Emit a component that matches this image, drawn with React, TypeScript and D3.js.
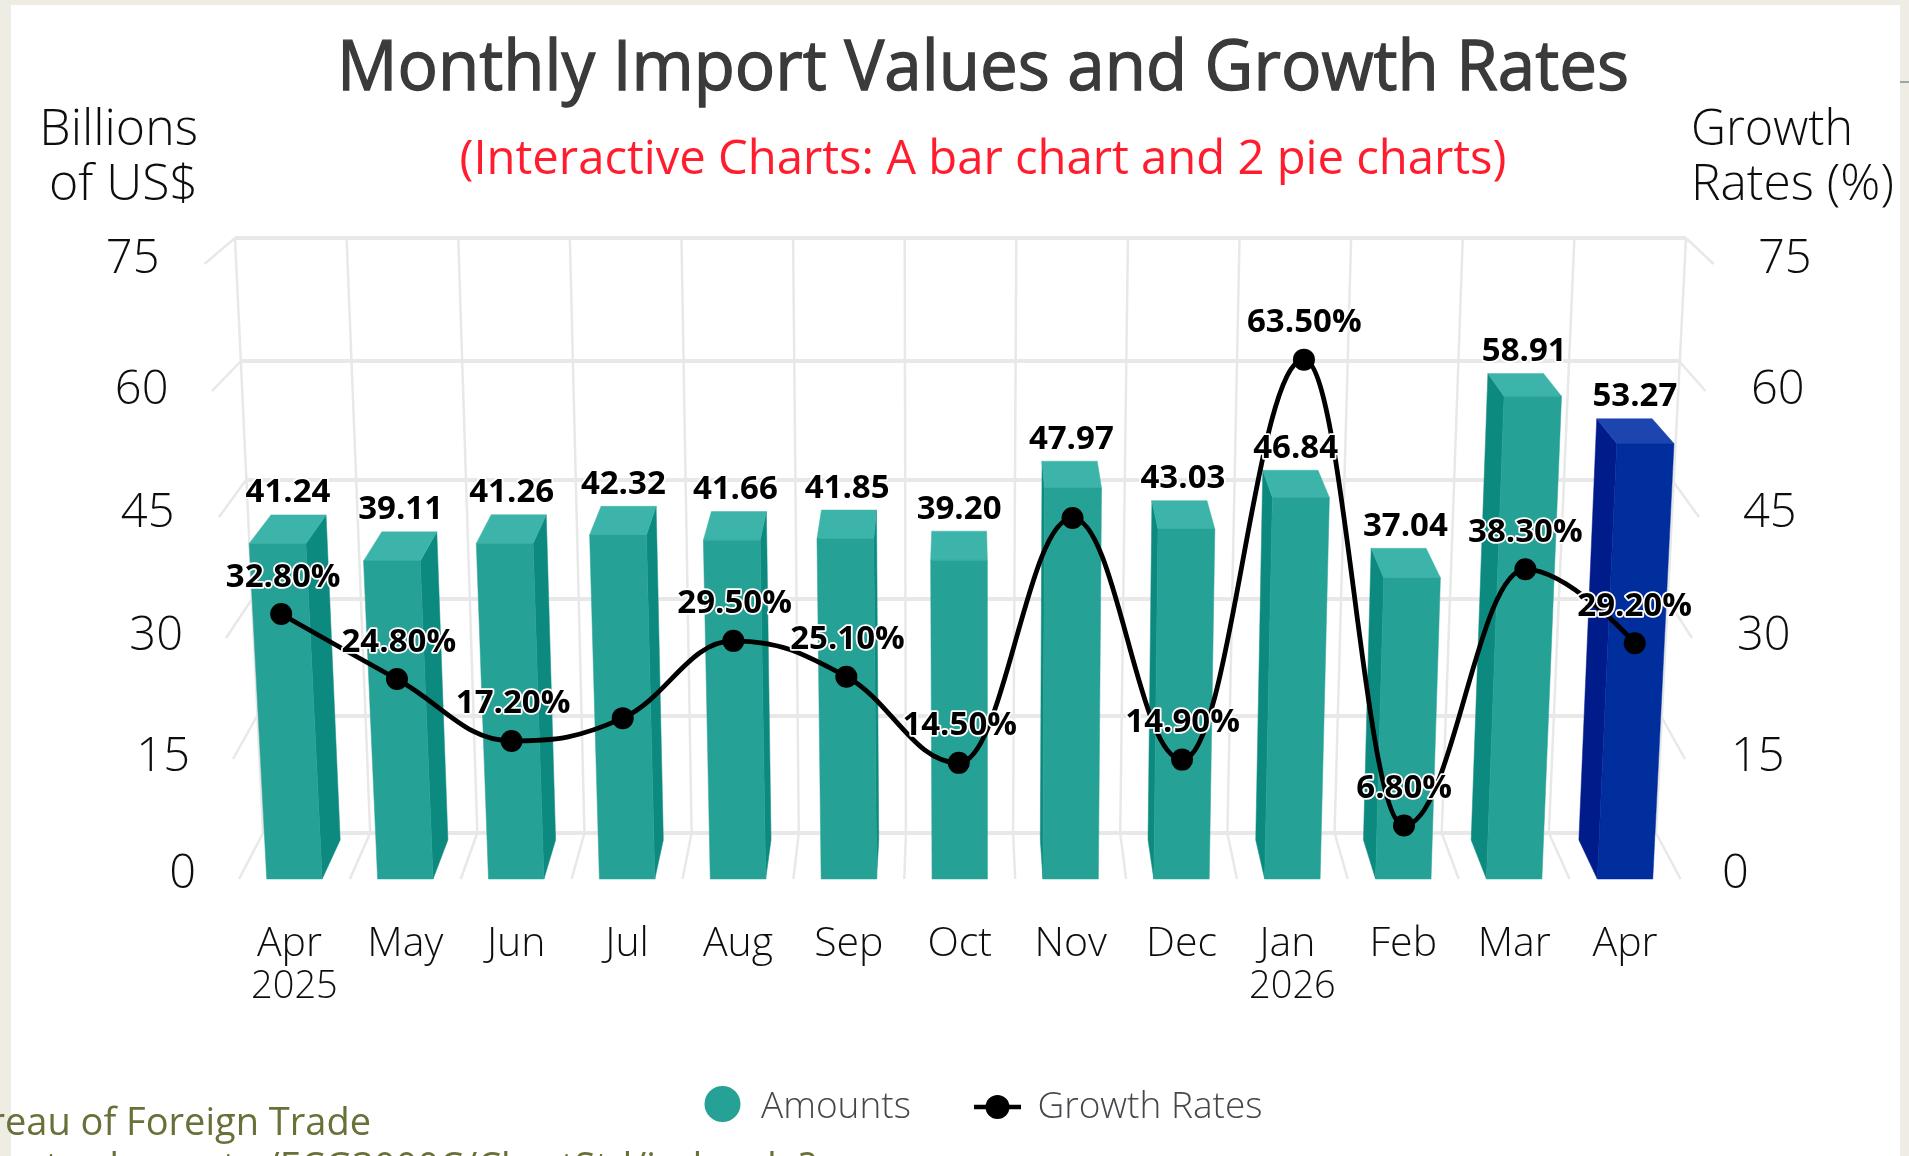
import React from "react";
import * as d3 from "d3";

// ---- data ----
const months = ["Apr", "May", "Jun", "Jul", "Aug", "Sep", "Oct", "Nov", "Dec", "Jan", "Feb", "Mar", "Apr"];
const years = ["2025", "", "", "", "", "", "", "", "", "2026", "", "", ""];
const amounts = [41.24, 39.11, 41.26, 42.32, 41.66, 41.85, 39.2, 47.97, 43.03, 46.84, 37.04, 58.91, 53.27];
const growth = [32.8, 24.8, 17.2, 20.0, 29.5, 25.1, 14.5, 44.6, 14.9, 63.5, 6.8, 38.3, 29.2];
const growthLabelled = [true, true, true, false, true, true, true, false, true, true, true, true, true];
const ticks = [0, 15, 30, 45, 60, 75];

// ---- projected frame (screen anchor of each axis tick) ----
const backYR = [833, 716, 599, 480, 361, 238];
const frontYR = [879, 757, 635, 513, 387, 262];
const tickYR = [879, 759, 638, 517, 391, 264];
const backLR = [263, 257, 252, 246, 241, 235];
const backRR = [1656, 1661, 1667, 1672, 1679, 1686];
const frontLR = [239, 233, 226, 219, 212, 204.5];
const frontRR = [1680.5, 1685, 1692, 1699, 1705.5, 1713.6];
const tickLabelYR = [888, 771, 650, 527, 403.5, 273];
const tickLabelLR = [196, 190, 183, 174.5, 168.5, 159.5];
const tickLabelRR = [1722, 1731, 1737, 1743, 1751, 1758];

const sc = (r: number[]) => d3.scaleLinear().domain(ticks).range(r);
const backY = sc(backYR), frontY = sc(frontYR), tickY = sc(tickYR);
const backL = sc(backLR), backR = sc(backRR), frontL = sc(frontLR), frontR = sc(frontRR);
const labelY = sc(tickLabelYR), labelL = sc(tickLabelLR), labelR = sc(tickLabelRR);

const band = d3.scaleLinear().domain([0, months.length]).range([0, 1]);
const BAR_DEPTH = 0.85;

function project(i: number, v: number, d: number): [number, number] {
  const u = band(i);
  const fx = frontL(v) + (frontR(v) - frontL(v)) * u;
  const bx = backL(v) + (backR(v) - backL(v)) * u;
  return [fx + (bx - fx) * d, frontY(v) + (backY(v) - frontY(v)) * d];
}

const poly = (pts: [number, number][]) => "M" + pts.map((p) => p.join(",")).join("L") + "Z";

// Spline with the same handle rule as the source chart's "spline" series
function splinePath(pts: [number, number][]) {
  const path = d3.path();
  const smoothing = 1.5, denom = smoothing + 1;
  const handles = pts.map((p, i) => {
    if (i === 0 || i === pts.length - 1) return { l: p, r: p };
    const [x, y] = p;
    const [lx, ly] = pts[i - 1];
    const [nx, ny] = pts[i + 1];
    const lcx = (smoothing * x + lx) / denom;
    let lcy = (smoothing * y + ly) / denom;
    const rcx = (smoothing * x + nx) / denom;
    let rcy = (smoothing * y + ny) / denom;
    const corr = ((rcy - lcy) * (rcx - x)) / (rcx - lcx) + y - rcy;
    lcy += corr;
    rcy += corr;
    if (lcy > ly && lcy > y) { lcy = Math.max(ly, y); rcy = 2 * y - lcy; }
    else if (lcy < ly && lcy < y) { lcy = Math.min(ly, y); rcy = 2 * y - lcy; }
    if (rcy > ny && rcy > y) { rcy = Math.max(ny, y); lcy = 2 * y - rcy; }
    else if (rcy < ny && rcy < y) { rcy = Math.min(ny, y); lcy = 2 * y - rcy; }
    return { l: [lcx, lcy] as [number, number], r: [rcx, rcy] as [number, number] };
  });
  path.moveTo(pts[0][0], pts[0][1]);
  for (let i = 1; i < pts.length; i++) {
    const a = handles[i - 1].r, b = handles[i].l;
    path.bezierCurveTo(a[0], a[1], b[0], b[1], pts[i][0], pts[i][1]);
  }
  return path.toString();
}

const FONT = "'Open Sans','Noto Sans',sans-serif";
const GRID = "#e8e8e8";
const INK = "#111";
const TEAL = { front: "#28a195", top: "#3eb4a9", side: "#0f8a7f" };
const BLUE = { front: "#022d9d", top: "#1b44b0", side: "#001b8a" };

function Bar({ i, v }: { i: number; v: number }) {
  const c = i === amounts.length - 1 ? BLUE : TEAL;
  const a = i + 0.25, b = i + 0.75;
  const fl0 = project(a, 0, 0), fr0 = project(b, 0, 0), fl = project(a, v, 0), fr = project(b, v, 0);
  const bl0 = project(a, 0, BAR_DEPTH), br0 = project(b, 0, BAR_DEPTH);
  const bl = project(a, v, BAR_DEPTH), br = project(b, v, BAR_DEPTH);
  return (
    <g>
      {br[0] > fr[0] && <path d={poly([fr0, br0, br, fr])} fill={c.side} stroke={c.side} strokeWidth={0.5} />}
      {bl[0] < fl[0] && <path d={poly([fl0, bl0, bl, fl])} fill={c.side} stroke={c.side} strokeWidth={0.5} />}
      <path d={poly([fl, fr, br, bl])} fill={c.top} stroke={c.top} strokeWidth={0.5} />
      <path d={poly([fl0, fr0, fr, fl])} fill={c.front} stroke={c.front} strokeWidth={0.5} />
    </g>
  );
}

export default function App() {
  const n = months.length;
  const linePts = growth.map((g, i): [number, number] => {
    const p = project(i + 0.5, g, 0);
    return [p[0] - (0.5 * i) / (n - 1), p[1] + 1.8];
  });
  const halo = { paintOrder: "stroke" as const, stroke: "#fff", strokeWidth: 3.5, strokeLinejoin: "round" as const };
  return (
    <svg width={1909} height={1156} viewBox="0 0 1909 1156" style={{ position: "absolute", left: 0, top: 0, display: "block" }} fontFamily={FONT}>
      <defs>
        <filter id="soft" x="0" y="0" width="1909" height="1156" filterUnits="userSpaceOnUse">
          <feGaussianBlur stdDeviation="0.6" />
        </filter>
      </defs>
      <rect width={1909} height={1156} fill="#eeece3" />
      <rect x={11} y={5} width={1889} height={1151} fill="#fff" />
      <line x1={1900} x2={1909} y1={82} y2={82} stroke="#7f8f8c" strokeWidth={1.5} />

      <g filter="url(#soft)">
        <text x={983} y={90} textAnchor="middle" fontSize={70} fill="#3a3a3a" stroke="#3a3a3a" strokeWidth={1.3} textLength={1292} lengthAdjust="spacingAndGlyphs">Monthly Import Values and Growth Rates</text>
        <text x={983} y={174} textAnchor="middle" fontSize={48} fill="#ff1f2d" textLength={1047} lengthAdjust="spacingAndGlyphs">(Interactive Charts: A bar chart and 2 pie charts)</text>

        <g fontSize={50} fill={INK} fontWeight={300}>
          <text x={198} y={145} textAnchor="end">Billions</text>
          <text x={198} y={200} textAnchor="end">of US$</text>
          <text x={1691} y={145} textLength={162} lengthAdjust="spacingAndGlyphs">Growth</text>
          <text x={1691} y={200} textLength={203} lengthAdjust="spacingAndGlyphs">Rates (%)</text>
        </g>

        {/* frame */}
        <g fill="none" stroke={GRID}>
          {ticks.map((t) => (
            <g key={t}>
              <line x1={backL(t)} x2={backR(t)} y1={backY(t)} y2={backY(t)} strokeWidth={4} />
              <line x1={backL(t)} y1={backY(t)} x2={frontL(t)} y2={tickY(t)} strokeWidth={2.5} />
              <line x1={backR(t)} y1={backY(t)} x2={frontR(t)} y2={tickY(t)} strokeWidth={2.5} />
            </g>
          ))}
          {d3.range(1, n).map((i) => (
            <g key={i}>
              <path d={"M" + project(i, 75, 1) + "L" + project(i, 0, 1)} strokeWidth={2.5} />
              <path d={"M" + project(i, 0, 1) + "L" + project(i, 0, 0)} strokeWidth={2.5} />
            </g>
          ))}
          <line x1={backL(75)} y1={backY(75)} x2={backL(0)} y2={backY(0)} strokeWidth={2.5} />
          <line x1={backR(75)} y1={backY(75)} x2={backR(0)} y2={backY(0)} strokeWidth={2.5} />
        </g>

        {/* axis labels */}
        <g fontSize={47} fill={INK} fontWeight={300}>
          {ticks.map((t) => (
            <g key={t}>
              <text x={labelL(t)} y={labelY(t)} textAnchor="end">{t}</text>
              <text x={labelR(t)} y={labelY(t)}>{t}</text>
            </g>
          ))}
        </g>
        <g fill={INK} textAnchor="middle" fontWeight={300}>
          {months.map((m, i) => {
            const x = project(i + 0.5, 0, 0)[0];
            return (
              <g key={i}>
                <text x={years[i] ? x - 5 : x} y={956} fontSize={41}>{m}</text>
                {years[i] && <text x={x} y={998} fontSize={38}>{years[i]}</text>}
              </g>
            );
          })}
        </g>

        {/* bars */}
        {amounts.map((v, i) => <Bar key={i} i={i} v={v} />)}

        {/* line */}
        <path d={splinePath(linePts)} fill="none" stroke="#000" strokeWidth={4.8} />
        {linePts.map((p, i) => <circle key={i} cx={p[0]} cy={p[1]} r={11} fill="#000" />)}

        {/* data labels */}
        <g fontSize={33} fontWeight={700} fill="#000" textAnchor="middle" style={halo}>
          {amounts.map((v, i) => {
            const f = project(i + 0.5, v, 0), b = project(i + 0.5, v, BAR_DEPTH);
            return <text key={i} x={(f[0] + b[0]) / 2} y={b[1] - 12.5}>{v.toFixed(2)}</text>;
          })}
          {growth.map((g, i) => growthLabelled[i] ? (
            <text key={i} x={linePts[i][0] + 2 - 0.18 * i} y={linePts[i][1] - 27.5}>{g.toFixed(2)}%</text>
          ) : null)}
        </g>

        {/* legend */}
        <circle cx={722.5} cy={1104} r={18} fill={TEAL.front} />
        <text x={761} y={1118} fontSize={37} fill="#44464b" fontWeight={300}>Amounts</text>
        <line x1={974} x2={1021} y1={1107} y2={1107} stroke="#000" strokeWidth={4.5} />
        <circle cx={997.5} cy={1107} r={12} fill="#000" />
        <text x={1037.5} y={1118} fontSize={37} fill="#44464b" fontWeight={300}>Growth Rates</text>

        {/* page text behind the chart */}
        <text x={371} y={1135} textAnchor="end" fontSize={38} fill="#6a7039">Bureau of Foreign Trade</text>
        <text x={816} y={1180} textAnchor="end" fontSize={38} fill="#6a7039">https://cuswebo.trade.gov.tw/ECG3000C/ChartStd/index.do?</text>
      </g>
    </svg>
  );
}
